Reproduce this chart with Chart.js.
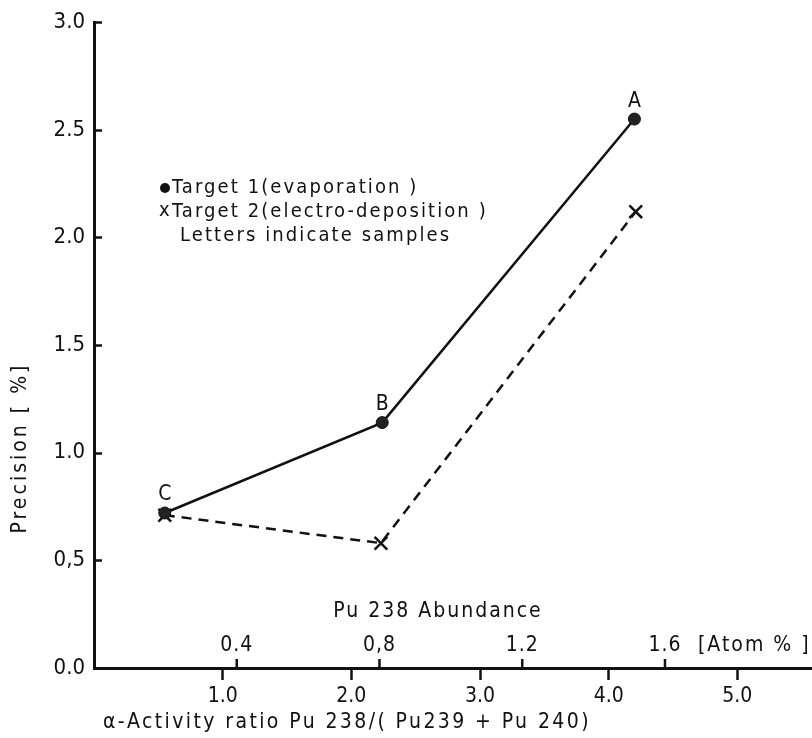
<!DOCTYPE html>
<html>
<head>
<meta charset="utf-8">
<script src="https://cdn.jsdelivr.net/npm/chart.js@4.4.1/dist/chart.umd.min.js"></script>
<style>
    html, body { margin: 0; padding: 0; background: #fff; }
    #wrap { width: 812px; height: 738px; }
</style>
</head>
<body>
<div id="wrap"><canvas id="precisionChart" width="812" height="738"></canvas></div>
<script>
// Samples (letters) and measured precision per target
const sampleLabels = ['C', 'B', 'A'];
const target1Ratio = [0.55, 2.24, 4.20];
const target1Precision = [0.72, 1.14, 2.55];
const target2Ratio = [0.55, 2.23, 4.21];
const target2Precision = [0.71, 0.58, 2.12];

// Axis ticks
const ratioTicks = [1, 2, 3, 4, 5];
const ratioTickLabels = ['1.0', '2.0', '3.0', '4.0', '5.0'];
const abundanceTicks = [0.4, 0.8, 1.2, 1.6];
const abundanceTickLabels = ['0.4', '0,8', '1.2', '1.6'];
const precisionTicks = [0, 0.5, 1, 1.5, 2, 2.5, 3];
const precisionTickLabels = ['0.0', '0,5', '1.0', '1.5', '2.0', '2.5', '3.0'];

// Axis ranges
const ratioMax = 5.58;
const abundanceMax = 2.012;

const FONT = '"Liberation Sans Narrow", "DejaVu Sans Condensed", sans-serif';
const INK = '#111';

// Extra drawing: inward y ticks, Pu 238 abundance scale, notes and sample letters
const notesPlugin = {
    id: 'notes',
    afterDraw(chart) {
        const ctx = chart.ctx;
        const area = chart.chartArea;
        const y = chart.scales.y;
        const x2 = chart.scales.x2;
        ctx.save();
        ctx.strokeStyle = INK;
        ctx.fillStyle = INK;
        ctx.lineWidth = 2.5;

        // short ticks pointing into the plot on the precision axis
        precisionTicks.forEach(v => {
            if (v === 0) return;
            const py = Math.round(y.getPixelForValue(v)) + 0.5;
            ctx.beginPath();
            ctx.moveTo(area.left, py);
            ctx.lineTo(area.left + 8, py);
            ctx.stroke();
        });

        // abundance ticks drawn upward from the bottom axis
        ctx.font = '21px ' + FONT;
        ctx.letterSpacing = '1px';
        ctx.textAlign = 'center';
        ctx.textBaseline = 'middle';
        abundanceTicks.forEach((v, i) => {
            const px = x2.getPixelForValue(v);
            ctx.beginPath();
            ctx.moveTo(px, area.bottom);
            ctx.lineTo(px, area.bottom - 9);
            ctx.stroke();
            ctx.fillText(abundanceTickLabels[i], px, area.bottom - 22);
        });
        ctx.letterSpacing = '2px';
        ctx.textAlign = 'left';
        ctx.fillText('[Atom % ]', 698, area.bottom - 22);
        ctx.textAlign = 'center';
        ctx.fillText('Pu 238 Abundance', 438, 612);

        // sample letters above the target 1 points
        ctx.letterSpacing = '0px';
        ctx.font = '21px ' + FONT;
        const meta = chart.getDatasetMeta(0);
        meta.data.forEach((pt, i) => {
            ctx.fillText(sampleLabels[i], pt.x, pt.y - 18);
        });

        // key
        ctx.font = '20px ' + FONT;
        ctx.letterSpacing = '2.1px';
        ctx.textAlign = 'left';
        ctx.beginPath();
        ctx.arc(165, 188, 5, 0, Math.PI * 2);
        ctx.fill();
        ctx.fillText('Target 1(evaporation )', 172, 188);
        ctx.fillText('x', 159, 211);
        ctx.fillText('Target 2(electro-deposition )', 172, 212);
        ctx.fillText('Letters indicate samples', 180, 236);

        // x axis title
        ctx.font = '21px ' + FONT;
        ctx.letterSpacing = '2.4px';
        ctx.fillText('α-Activity ratio Pu 238/( Pu239 + Pu 240)', 103, 723);

        // y axis title
        ctx.letterSpacing = '3px';
        ctx.translate(21, 448);
        ctx.rotate(-Math.PI / 2);
        ctx.textAlign = 'center';
        ctx.fillText('Precision [ %]', 0, 0);
        ctx.restore();
    }
};

new Chart(document.getElementById('precisionChart'), {
    type: 'scatter',
    data: {
        datasets: [{
            label: 'Target 1(evaporation)',
            data: target1Ratio.map((r, i) => ({ x: r, y: target1Precision[i] })),
            showLine: true,
            borderColor: INK,
            borderWidth: 2.5,
            pointStyle: 'circle',
            pointRadius: 6,
            pointBackgroundColor: '#222',
            pointBorderColor: INK,
            pointBorderWidth: 1
        }, {
            label: 'Target 2(electro-deposition)',
            data: target2Ratio.map((r, i) => ({ x: r, y: target2Precision[i] })),
            showLine: true,
            borderColor: INK,
            borderWidth: 2.5,
            borderDash: [10, 7],
            pointStyle: 'crossRot',
            pointRadius: 9,
            pointBorderColor: INK,
            pointBorderWidth: 2.5
        }]
    },
    options: {
        responsive: false,
        animation: false,
        clip: false,
        layout: {
            autoPadding: false,
            padding: { top: 20, right: 0, bottom: 0, left: 0 }
        },
        plugins: {
            legend: { display: false },
            tooltip: { enabled: false }
        },
        scales: {
            x: {
                type: 'linear',
                min: 0,
                max: ratioMax,
                afterBuildTicks: scale => { scale.ticks = ratioTicks.map(v => ({ value: v })); },
                afterFit: scale => {
                    scale.height = 70;
                    scale.paddingLeft = 0;
                    scale.paddingRight = 0;
                },
                ticks: {
                    color: INK,
                    padding: 4,
                    font: { family: FONT, size: 21 },
                    callback: v => ratioTickLabels[ratioTicks.indexOf(v)]
                },
                grid: {
                    drawOnChartArea: false,
                    tickLength: 12,
                    tickWidth: 2.5,
                    tickColor: INK
                },
                border: { display: true, color: INK, width: 3 }
            },
            x2: {
                type: 'linear',
                display: false,
                min: 0,
                max: abundanceMax
            },
            y: {
                type: 'linear',
                min: 0,
                max: 3,
                afterBuildTicks: scale => { scale.ticks = precisionTicks.map(v => ({ value: v })); },
                afterFit: scale => { scale.width = 94; },
                ticks: {
                    color: INK,
                    padding: 9,
                    font: { family: FONT, size: 22 },
                    callback: v => precisionTickLabels[precisionTicks.indexOf(v)]
                },
                grid: { drawOnChartArea: false, drawTicks: false },
                border: { display: true, color: INK, width: 3 }
            }
        }
    },
    plugins: [notesPlugin]
});
</script>
</body>
</html>
